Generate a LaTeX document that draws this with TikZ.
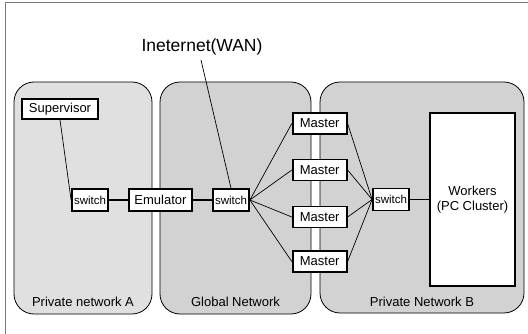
\documentclass[tikz,border=0pt]{standalone}
\usepackage{fontspec}
\setmainfont{Liberation Sans}
\definecolor{regA}{HTML}{E0E0E0}
\definecolor{regB}{HTML}{D2D2D2}
\definecolor{framec}{HTML}{7A7A7A}
\begin{document}
\begin{tikzpicture}[x=1pt,y=-1pt,
  region/.style={draw=black,line width=0.8pt,rounded corners=20pt,inner sep=0pt},
  box/.style={draw=black,fill=white,line width=1.8pt,inner sep=0pt,font=\fontsize{13}{15}\selectfont},
  sw/.style={box,minimum width=36pt,minimum height=22pt,font=\fontsize{11.5}{13}\selectfont},
  master/.style={box,minimum width=54pt,minimum height=21pt},
  lbl/.style={inner sep=0pt,font=\fontsize{13}{15}\selectfont},
  thin/.style={line width=0.7pt},
  thick/.style={line width=1.8pt}]
\useasboundingbox (0,0) rectangle (528,334);
\draw[framec,line width=1.2pt] (5.5,334) -- (5.5,2.5) -- (528,2.5);
% regions
\node[region,fill=regA,minimum width=138pt,minimum height=232pt] (ra) at (83,198) {};
\node[region,fill=regB,minimum width=151pt,minimum height=232pt] (rg) at (235.5,198) {};
\node[region,fill=regB,minimum width=204pt,minimum height=231pt] (rb) at (422,197.5) {};
\node[lbl] (la) at (83,302) {Private network A};
\node[lbl] (lg) at (235.5,302) {Global Network};
\node[lbl] (lb) at (422,302) {Private Network B};
% nodes
\node[box,minimum width=76pt,minimum height=20pt] (sup) at (60,109) {Supervisor};
\node[sw] (swa) at (90,200) {switch};
\node[box,minimum width=63pt,minimum height=22pt] (emu) at (160.5,200) {Emulator};
\node[sw] (swg) at (231,200) {switch};
\node[master] (m1) at (319.7,123.5) {Master};
\node[master] (m2) at (319.7,170) {Master};
\node[master] (m3) at (319.7,217) {Master};
\node[master] (m4) at (319.7,261.5) {Master};
\node[sw] (swb) at (391,199.5) {switch};
\node[box,minimum width=85pt,minimum height=173pt,align=center] (wk) at (472.5,199.5) {Workers\\(PC Cluster)};
\node[inner sep=0pt,font=\fontsize{17.5}{20}\selectfont] (inet) at (202,47) {Ineternet(WAN)};
% connectors
\draw[thin] (sup.south) -- (swa.west);
\draw[thin] (201,60) coordinate (ie) -- (swg.north);
\draw[thick] (swa) -- (emu);
\draw[thick] (emu) -- (swg);
\draw[thick] (swb) -- (wk);
\foreach \m in {m1,m2,m3,m4}{
  \draw[thin] (swg.east) -- (\m.west);
  \draw[thin] (\m.east) -- (swb.west);
}
\end{tikzpicture}
\end{document}
